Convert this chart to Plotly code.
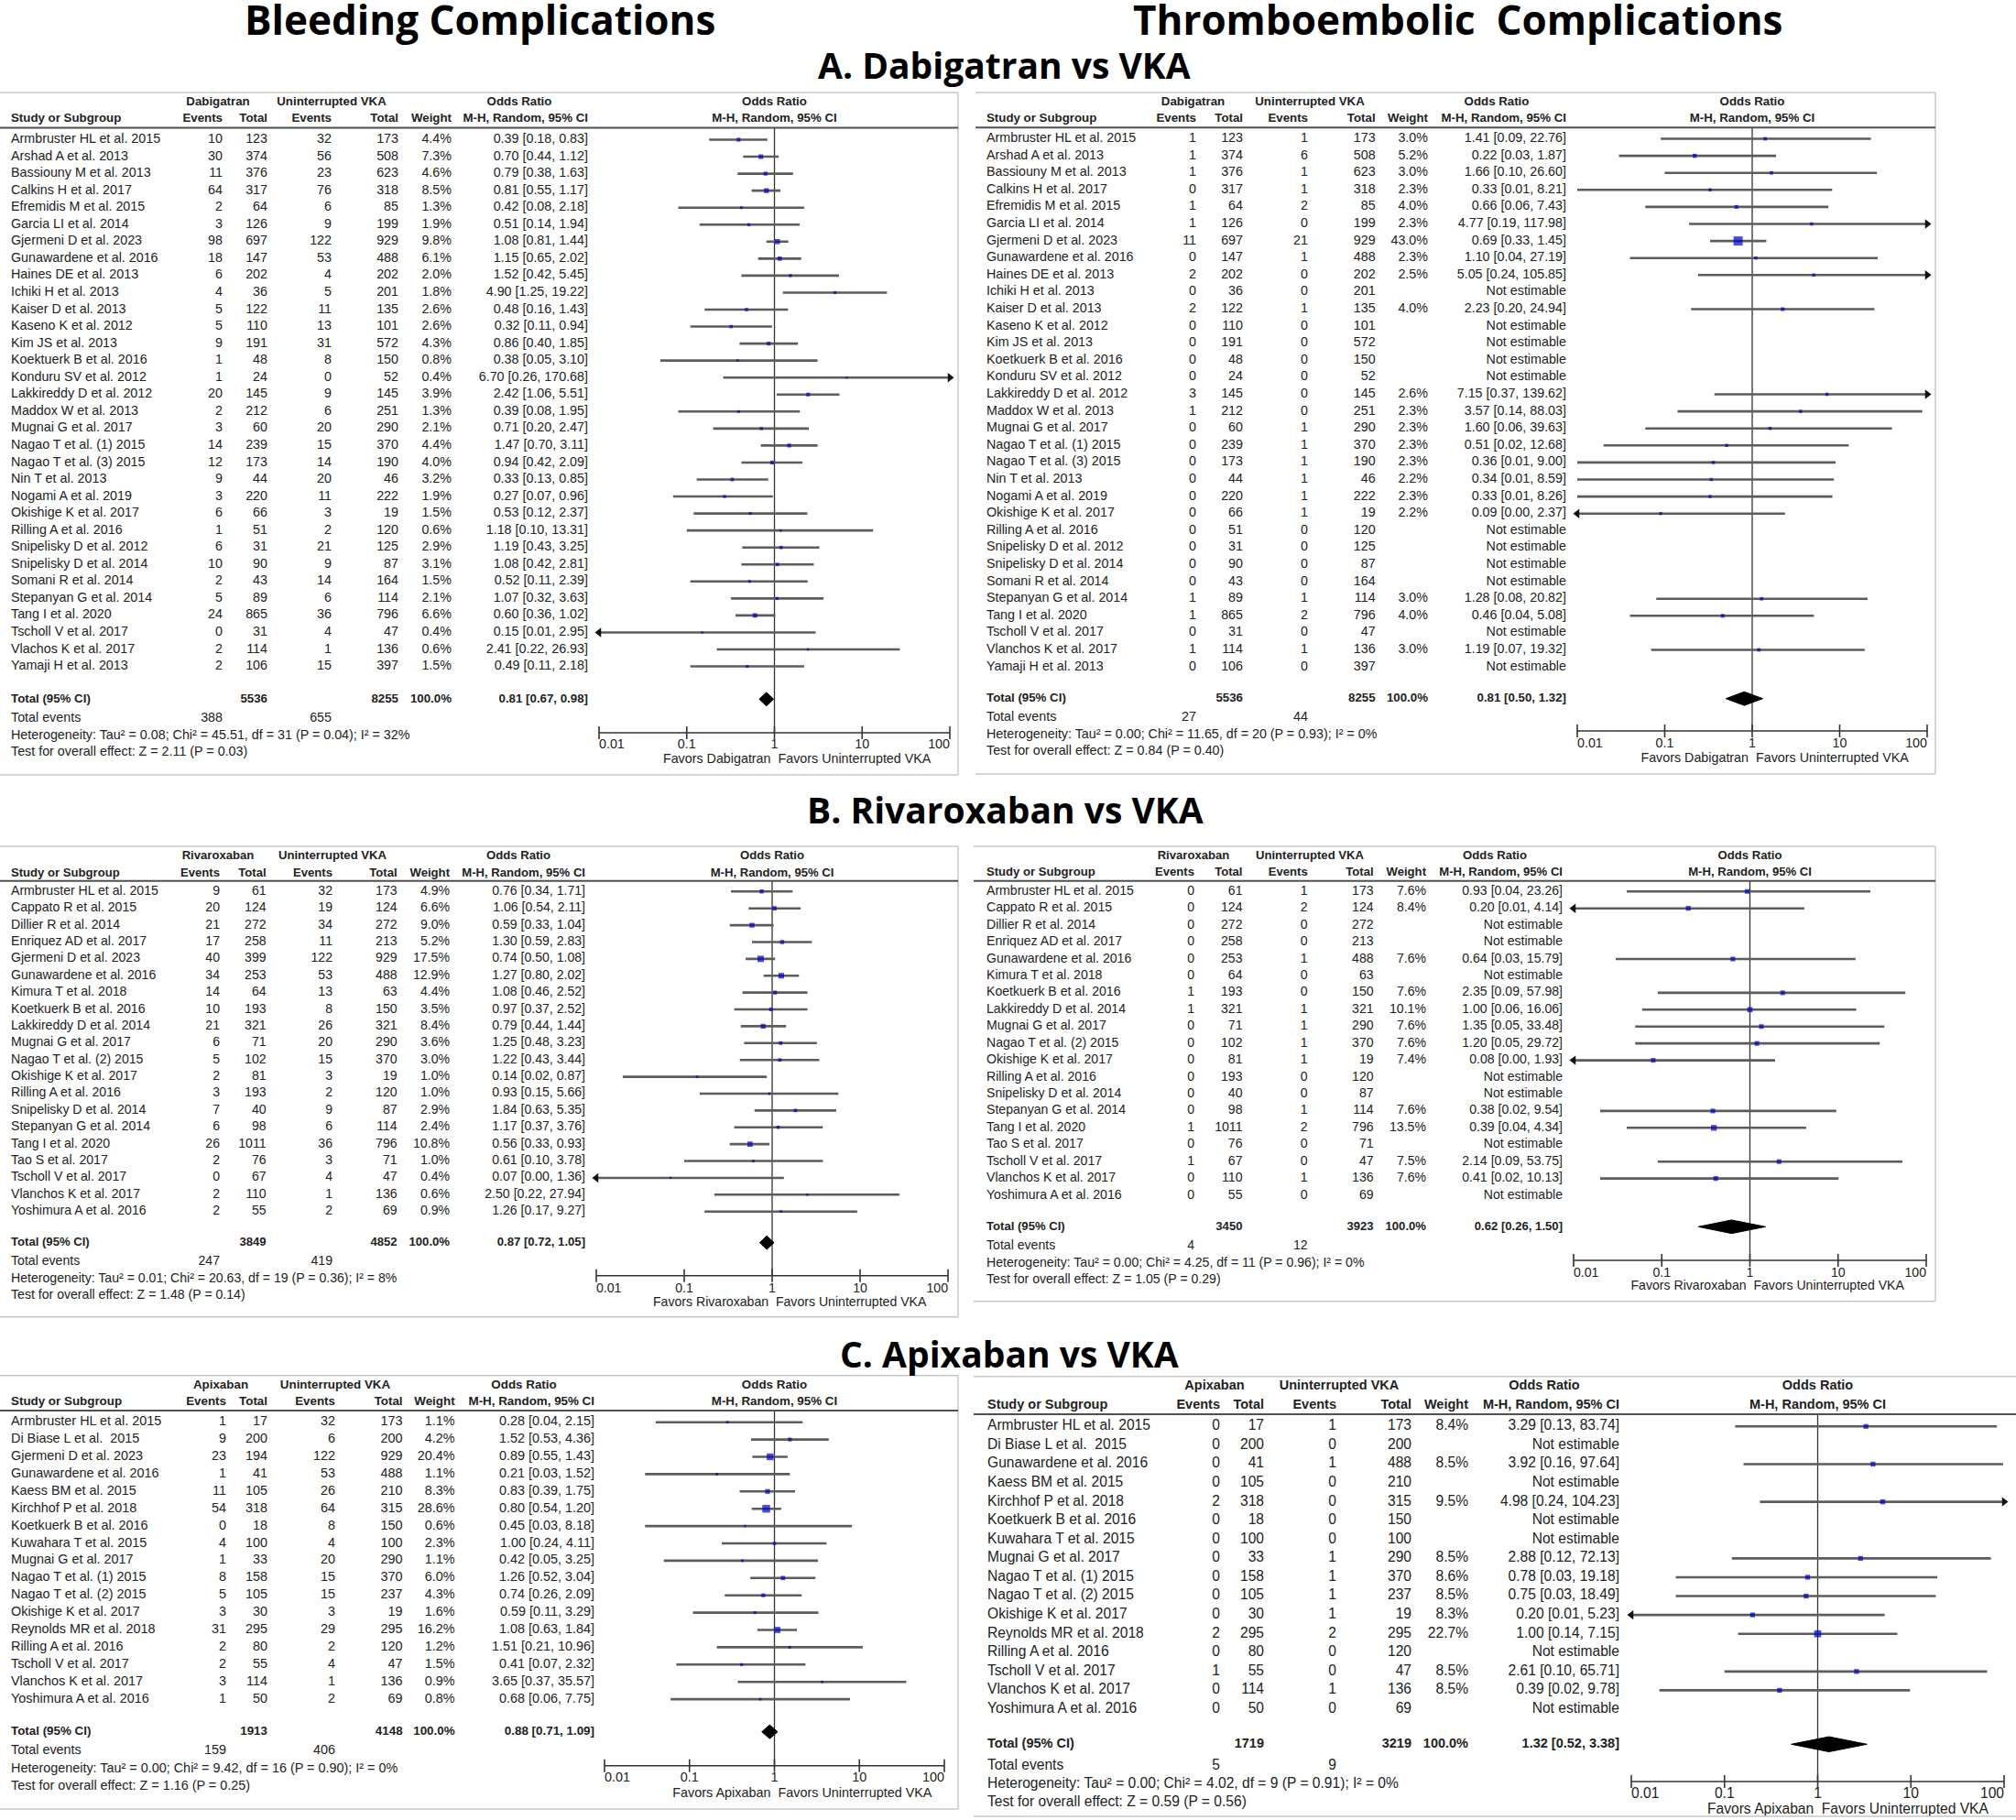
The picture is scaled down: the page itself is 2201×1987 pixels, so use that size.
import plotly.graph_objects as go

W, H = 2201, 1987
FONT = "Liberation Sans, Arial, sans-serif"
TITLE_FONT = "Open Sans, sans-serif"
TXT = "#222222"
CI_COL = "#5c5c5c"
BLUE = "#0000cc"

# ---------------- data ----------------
tick_vals = [0.01, 0.1, 1, 10, 100]
tick_text = ["0.01", "0.1", "1", "10", "100"]
comparator = "Uninterrupted VKA"

# A. Dabigatran - bleeding
dab_bleed_study = ["Armbruster HL et al. 2015", "Arshad A et al. 2013", "Bassiouny M et al. 2013", "Calkins H et al. 2017",
                   "Efremidis M et al. 2015", "Garcia LI et al. 2014", "Gjermeni D et al. 2023", "Gunawardene et al. 2016",
                   "Haines DE et al. 2013", "Ichiki H et al. 2013", "Kaiser D et al. 2013", "Kaseno K et al. 2012",
                   "Kim JS et al. 2013", "Koektuerk B et al. 2016", "Konduru SV et al. 2012", "Lakkireddy D et al. 2012",
                   "Maddox W et al. 2013", "Mugnai G et al. 2017", "Nagao T et al. (1) 2015", "Nagao T et al. (3) 2015",
                   "Nin T et al. 2013", "Nogami A et al. 2019", "Okishige K et al. 2017", "Rilling A et al. 2016",
                   "Snipelisky D et al. 2012", "Snipelisky D et al. 2014", "Somani R et al. 2014", "Stepanyan G et al. 2014",
                   "Tang I et al. 2020", "Tscholl V et al. 2017", "Vlachos K et al. 2017", "Yamaji H et al. 2013"]
dab_bleed_ev1 = [10, 30, 11, 64, 2, 3, 98, 18, 6, 4, 5, 5, 9, 1, 1, 20, 2, 3, 14, 12, 9, 3, 6, 1, 6, 10, 2, 5, 24, 0, 2, 2]
dab_bleed_tot1 = [123, 374, 376, 317, 64, 126, 697, 147, 202, 36, 122, 110, 191, 48, 24, 145, 212, 60, 239, 173, 44, 220, 66, 51, 31, 90, 43, 89, 865, 31, 114, 106]
dab_bleed_ev2 = [32, 56, 23, 76, 6, 9, 122, 53, 4, 5, 11, 13, 31, 8, 0, 9, 6, 20, 15, 14, 20, 11, 3, 2, 21, 9, 14, 6, 36, 4, 1, 15]
dab_bleed_tot2 = [173, 508, 623, 318, 85, 199, 929, 488, 202, 201, 135, 101, 572, 150, 52, 145, 251, 290, 370, 190, 46, 222, 19, 120, 125, 87, 164, 114, 796, 47, 136, 397]
dab_bleed_weight = [4.4, 7.3, 4.6, 8.5, 1.3, 1.9, 9.8, 6.1, 2.0, 1.8, 2.6, 2.6, 4.3, 0.8, 0.4, 3.9, 1.3, 2.1, 4.4, 4.0, 3.2, 1.9, 1.5, 0.6, 2.9, 3.1, 1.5, 2.1, 6.6, 0.4, 0.6, 1.5]
dab_bleed_or = [0.39, 0.70, 0.79, 0.81, 0.42, 0.51, 1.08, 1.15, 1.52, 4.90, 0.48, 0.32, 0.86, 0.38, 6.70, 2.42, 0.39, 0.71, 1.47, 0.94, 0.33, 0.27, 0.53, 1.18, 1.19, 1.08, 0.52, 1.07, 0.60, 0.15, 2.41, 0.49]
dab_bleed_lo = [0.18, 0.44, 0.38, 0.55, 0.08, 0.14, 0.81, 0.65, 0.42, 1.25, 0.16, 0.11, 0.40, 0.05, 0.26, 1.06, 0.08, 0.20, 0.70, 0.42, 0.13, 0.07, 0.12, 0.10, 0.43, 0.42, 0.11, 0.32, 0.36, 0.008, 0.22, 0.11]
dab_bleed_hi = [0.83, 1.12, 1.63, 1.17, 2.18, 1.94, 1.44, 2.02, 5.45, 19.22, 1.43, 0.94, 1.85, 3.10, 170.68, 5.51, 1.95, 2.47, 3.11, 2.09, 0.85, 0.96, 2.37, 13.31, 3.25, 2.81, 2.39, 3.63, 1.02, 2.95, 26.93, 2.18]
dab_bleed_totals = [5536, 8255, 388, 655]
dab_bleed_pooled = [0.81, 0.67, 0.98]
dab_bleed_het = "Heterogeneity: Tau² = 0.08; Chi² = 45.51, df = 31 (P = 0.04); I² = 32%"
dab_bleed_test = "Test for overall effect: Z = 2.11 (P = 0.03)"

# A. Dabigatran - thromboembolic
dab_thr_study = ["Armbruster HL et al. 2015", "Arshad A et al. 2013", "Bassiouny M et al. 2013", "Calkins H et al. 2017",
                 "Efremidis M et al. 2015", "Garcia LI et al. 2014", "Gjermeni D et al. 2023", "Gunawardene et al. 2016",
                 "Haines DE et al. 2013", "Ichiki H et al. 2013", "Kaiser D et al. 2013", "Kaseno K et al. 2012",
                 "Kim JS et al. 2013", "Koetkuerk B et al. 2016", "Konduru SV et al. 2012", "Lakkireddy D et al. 2012",
                 "Maddox W et al. 2013", "Mugnai G et al. 2017", "Nagao T et al. (1) 2015", "Nagao T et al. (3) 2015",
                 "Nin T et al. 2013", "Nogami A et al. 2019", "Okishige K et al. 2017", "Rilling A et al. 2016",
                 "Snipelisky D et al. 2012", "Snipelisky D et al. 2014", "Somani R et al. 2014", "Stepanyan G et al. 2014",
                 "Tang I et al. 2020", "Tscholl V et al. 2017", "Vlanchos K et al. 2017", "Yamaji H et al. 2013"]
dab_thr_ev1 = [1, 1, 1, 0, 1, 1, 11, 0, 2, 0, 2, 0, 0, 0, 0, 3, 1, 0, 0, 0, 0, 0, 0, 0, 0, 0, 0, 1, 1, 0, 1, 0]
dab_thr_tot1 = [123, 374, 376, 317, 64, 126, 697, 147, 202, 36, 122, 110, 191, 48, 24, 145, 212, 60, 239, 173, 44, 220, 66, 51, 31, 90, 43, 89, 865, 31, 114, 106]
dab_thr_ev2 = [1, 6, 1, 1, 2, 0, 21, 1, 0, 0, 1, 0, 0, 0, 0, 0, 0, 1, 1, 1, 1, 1, 1, 0, 0, 0, 0, 1, 2, 0, 1, 0]
dab_thr_tot2 = [173, 508, 623, 318, 85, 199, 929, 488, 202, 201, 135, 101, 572, 150, 52, 145, 251, 290, 370, 190, 46, 222, 19, 120, 125, 87, 164, 114, 796, 47, 136, 397]
dab_thr_weight = [3.0, 5.2, 3.0, 2.3, 4.0, 2.3, 43.0, 2.3, 2.5, None, 4.0, None, None, None, None, 2.6, 2.3, 2.3, 2.3, 2.3,
                  2.2, 2.3, 2.2, None, None, None, None, 3.0, 4.0, None, 3.0, None]
dab_thr_or = [1.41, 0.22, 1.66, 0.33, 0.66, 4.77, 0.69, 1.10, 5.05, None, 2.23, None, None, None, None, 7.15, 3.57, 1.60, 0.51, 0.36,
              0.34, 0.33, 0.09, None, None, None, None, 1.28, 0.46, None, 1.19, None]
dab_thr_lo = [0.09, 0.03, 0.10, 0.01, 0.06, 0.19, 0.33, 0.04, 0.24, None, 0.20, None, None, None, None, 0.37, 0.14, 0.06, 0.02, 0.01,
              0.01, 0.01, 0.003, None, None, None, None, 0.08, 0.04, None, 0.07, None]
dab_thr_hi = [22.76, 1.87, 26.60, 8.21, 7.43, 117.98, 1.45, 27.19, 105.85, None, 24.94, None, None, None, None, 139.62, 88.03, 39.63, 12.68, 9.00,
              8.59, 8.26, 2.37, None, None, None, None, 20.82, 5.08, None, 19.32, None]
dab_thr_totals = [5536, 8255, 27, 44]
dab_thr_pooled = [0.81, 0.50, 1.32]
dab_thr_het = "Heterogeneity: Tau² = 0.00; Chi² = 11.65, df = 20 (P = 0.93); I² = 0%"
dab_thr_test = "Test for overall effect: Z = 0.84 (P = 0.40)"

# B. Rivaroxaban - bleeding
riv_bleed_study = ["Armbruster HL et al. 2015", "Cappato R et al. 2015", "Dillier R et al. 2014", "Enriquez AD et al. 2017",
                   "Gjermeni D et al. 2023", "Gunawardene et al. 2016", "Kimura T et al. 2018", "Koetkuerk B et al. 2016",
                   "Lakkireddy D et al. 2014", "Mugnai G et al. 2017", "Nagao T et al. (2) 2015", "Okishige K et al. 2017",
                   "Rilling A et al. 2016", "Snipelisky D et al. 2014", "Stepanyan G et al. 2014", "Tang I et al. 2020",
                   "Tao S et al. 2017", "Tscholl V et al. 2017", "Vlanchos K et al. 2017", "Yoshimura A et al. 2016"]
riv_bleed_ev1 = [9, 20, 21, 17, 40, 34, 14, 10, 21, 6, 5, 2, 3, 7, 6, 26, 2, 0, 2, 2]
riv_bleed_tot1 = [61, 124, 272, 258, 399, 253, 64, 193, 321, 71, 102, 81, 193, 40, 98, 1011, 76, 67, 110, 55]
riv_bleed_ev2 = [32, 19, 34, 11, 122, 53, 13, 8, 26, 20, 15, 3, 2, 9, 6, 36, 3, 4, 1, 2]
riv_bleed_tot2 = [173, 124, 272, 213, 929, 488, 63, 150, 321, 290, 370, 19, 120, 87, 114, 796, 71, 47, 136, 69]
riv_bleed_weight = [4.9, 6.6, 9.0, 5.2, 17.5, 12.9, 4.4, 3.5, 8.4, 3.6, 3.0, 1.0, 1.0, 2.9, 2.4, 10.8, 1.0, 0.4, 0.6, 0.9]
riv_bleed_or = [0.76, 1.06, 0.59, 1.30, 0.74, 1.27, 1.08, 0.97, 0.79, 1.25, 1.22, 0.14, 0.93, 1.84, 1.17, 0.56, 0.61, 0.07, 2.50, 1.26]
riv_bleed_lo = [0.34, 0.54, 0.33, 0.59, 0.50, 0.80, 0.46, 0.37, 0.44, 0.48, 0.43, 0.02, 0.15, 0.63, 0.37, 0.33, 0.10, 0.004, 0.22, 0.17]
riv_bleed_hi = [1.71, 2.11, 1.04, 2.83, 1.08, 2.02, 2.52, 2.52, 1.44, 3.23, 3.44, 0.87, 5.66, 5.35, 3.76, 0.93, 3.78, 1.36, 27.94, 9.27]
riv_bleed_totals = [3849, 4852, 247, 419]
riv_bleed_pooled = [0.87, 0.72, 1.05]
riv_bleed_het = "Heterogeneity: Tau² = 0.01; Chi² = 20.63, df = 19 (P = 0.36); I² = 8%"
riv_bleed_test = "Test for overall effect: Z = 1.48 (P = 0.14)"

# B. Rivaroxaban - thromboembolic
riv_thr_study = ["Armbruster HL et al. 2015", "Cappato R et al. 2015", "Dillier R et al. 2014", "Enriquez AD et al. 2017",
                 "Gunawardene et al. 2016", "Kimura T et al. 2018", "Koetkuerk B et al. 2016", "Lakkireddy D et al. 2014",
                 "Mugnai G et al. 2017", "Nagao T et al. (2) 2015", "Okishige K et al. 2017", "Rilling A et al. 2016",
                 "Snipelisky D et al. 2014", "Stepanyan G et al. 2014", "Tang I et al. 2020", "Tao S et al. 2017",
                 "Tscholl V et al. 2017", "Vlanchos K et al. 2017", "Yoshimura A et al. 2016"]
riv_thr_ev1 = [0, 0, 0, 0, 0, 0, 1, 1, 0, 0, 0, 0, 0, 0, 1, 0, 1, 0, 0]
riv_thr_tot1 = [61, 124, 272, 258, 253, 64, 193, 321, 71, 102, 81, 193, 40, 98, 1011, 76, 67, 110, 55]
riv_thr_ev2 = [1, 2, 0, 0, 1, 0, 0, 1, 1, 1, 1, 0, 0, 1, 2, 0, 0, 1, 0]
riv_thr_tot2 = [173, 124, 272, 213, 488, 63, 150, 321, 290, 370, 19, 120, 87, 114, 796, 71, 47, 136, 69]
riv_thr_weight = [7.6, 8.4, None, None, 7.6, None, 7.6, 10.1, 7.6, 7.6, 7.4, None, None, 7.6, 13.5, None, 7.5, 7.6, None]
riv_thr_or = [0.93, 0.20, None, None, 0.64, None, 2.35, 1.00, 1.35, 1.20, 0.08, None, None, 0.38, 0.39, None, 2.14, 0.41, None]
riv_thr_lo = [0.04, 0.009, None, None, 0.03, None, 0.09, 0.06, 0.05, 0.05, 0.003, None, None, 0.02, 0.04, None, 0.09, 0.02, None]
riv_thr_hi = [23.26, 4.14, None, None, 15.79, None, 57.98, 16.06, 33.48, 29.72, 1.93, None, None, 9.54, 4.34, None, 53.75, 10.13, None]
riv_thr_totals = [3450, 3923, 4, 12]
riv_thr_pooled = [0.62, 0.26, 1.50]
riv_thr_het = "Heterogeneity: Tau² = 0.00; Chi² = 4.25, df = 11 (P = 0.96); I² = 0%"
riv_thr_test = "Test for overall effect: Z = 1.05 (P = 0.29)"

# C. Apixaban - bleeding
api_bleed_study = ["Armbruster HL et al. 2015", "Di Biase L et al.\u00a0 2015", "Gjermeni D et al. 2023", "Gunawardene et al. 2016",
                   "Kaess BM et al. 2015", "Kirchhof P et al. 2018", "Koetkuerk B et al. 2016", "Kuwahara T et al. 2015",
                   "Mugnai G et al. 2017", "Nagao T et al. (1) 2015", "Nagao T et al. (2) 2015", "Okishige K et al. 2017",
                   "Reynolds MR et al. 2018", "Rilling A et al. 2016", "Tscholl V et al. 2017", "Vlanchos K et al. 2017",
                   "Yoshimura A et al. 2016"]
api_bleed_ev1 = [1, 9, 23, 1, 11, 54, 0, 4, 1, 8, 5, 3, 31, 2, 2, 3, 1]
api_bleed_tot1 = [17, 200, 194, 41, 105, 318, 18, 100, 33, 158, 105, 30, 295, 80, 55, 114, 50]
api_bleed_ev2 = [32, 6, 122, 53, 26, 64, 8, 4, 20, 15, 15, 3, 29, 2, 4, 1, 2]
api_bleed_tot2 = [173, 200, 929, 488, 210, 315, 150, 100, 290, 370, 237, 19, 295, 120, 47, 136, 69]
api_bleed_weight = [1.1, 4.2, 20.4, 1.1, 8.3, 28.6, 0.6, 2.3, 1.1, 6.0, 4.3, 1.6, 16.2, 1.2, 1.5, 0.9, 0.8]
api_bleed_or = [0.28, 1.52, 0.89, 0.21, 0.83, 0.80, 0.45, 1.00, 0.42, 1.26, 0.74, 0.59, 1.08, 1.51, 0.41, 3.65, 0.68]
api_bleed_lo = [0.04, 0.53, 0.55, 0.03, 0.39, 0.54, 0.03, 0.24, 0.05, 0.52, 0.26, 0.11, 0.63, 0.21, 0.07, 0.37, 0.06]
api_bleed_hi = [2.15, 4.36, 1.43, 1.52, 1.75, 1.20, 8.18, 4.11, 3.25, 3.04, 2.09, 3.29, 1.84, 10.96, 2.32, 35.57, 7.75]
api_bleed_totals = [1913, 4148, 159, 406]
api_bleed_pooled = [0.88, 0.71, 1.09]
api_bleed_het = "Heterogeneity: Tau² = 0.00; Chi² = 9.42, df = 16 (P = 0.90); I² = 0%"
api_bleed_test = "Test for overall effect: Z = 1.16 (P = 0.25)"

# C. Apixaban - thromboembolic
api_thr_study = ["Armbruster HL et al. 2015", "Di Biase L et al.\u00a0 2015", "Gunawardene et al. 2016", "Kaess BM et al. 2015",
                 "Kirchhof P et al. 2018", "Koetkuerk B et al. 2016", "Kuwahara T et al. 2015", "Mugnai G et al. 2017",
                 "Nagao T et al. (1) 2015", "Nagao T et al. (2) 2015", "Okishige K et al. 2017", "Reynolds MR et al. 2018",
                 "Rilling A et al. 2016", "Tscholl V et al. 2017", "Vlanchos K et al. 2017", "Yoshimura A et al. 2016"]
api_thr_ev1 = [0, 0, 0, 0, 2, 0, 0, 0, 0, 0, 0, 2, 0, 1, 0, 0]
api_thr_tot1 = [17, 200, 41, 105, 318, 18, 100, 33, 158, 105, 30, 295, 80, 55, 114, 50]
api_thr_ev2 = [1, 0, 1, 0, 0, 0, 0, 1, 1, 1, 1, 2, 0, 0, 1, 0]
api_thr_tot2 = [173, 200, 488, 210, 315, 150, 100, 290, 370, 237, 19, 295, 120, 47, 136, 69]
api_thr_weight = [8.4, None, 8.5, None, 9.5, None, None, 8.5, 8.6, 8.5, 8.3, 22.7, None, 8.5, 8.5, None]
api_thr_or = [3.29, None, 3.92, None, 4.98, None, None, 2.88, 0.78, 0.75, 0.20, 1.00, None, 2.61, 0.39, None]
api_thr_lo = [0.13, None, 0.16, None, 0.24, None, None, 0.12, 0.03, 0.03, 0.008, 0.14, None, 0.10, 0.02, None]
api_thr_hi = [83.74, None, 97.64, None, 104.23, None, None, 72.13, 19.18, 18.49, 5.23, 7.15, None, 65.71, 9.78, None]
api_thr_totals = [1719, 3219, 5, 9]
api_thr_pooled = [1.32, 0.52, 3.38]
api_thr_het = "Heterogeneity: Tau² = 0.00; Chi² = 4.02, df = 9 (P = 0.91); I² = 0%"
api_thr_test = "Test for overall effect: Z = 0.59 (P = 0.56)"

# ---------------- panels ----------------
def panel(group, study, ev1, tot1, ev2, tot2, weight, orr, lo, hi, totals, pooled, het, test):
    return dict(group=group, study=study, ev1=ev1, tot1=tot1, ev2=ev2, tot2=tot2, weight=weight,
                orr=orr, lo=lo, hi=hi, totals=totals, pooled=pooled, het=het, test=test)

panels = [
    panel("Dabigatran", dab_bleed_study, dab_bleed_ev1, dab_bleed_tot1, dab_bleed_ev2, dab_bleed_tot2, dab_bleed_weight,
          dab_bleed_or, dab_bleed_lo, dab_bleed_hi, dab_bleed_totals, dab_bleed_pooled, dab_bleed_het, dab_bleed_test),
    panel("Dabigatran", dab_thr_study, dab_thr_ev1, dab_thr_tot1, dab_thr_ev2, dab_thr_tot2, dab_thr_weight,
          dab_thr_or, dab_thr_lo, dab_thr_hi, dab_thr_totals, dab_thr_pooled, dab_thr_het, dab_thr_test),
    panel("Rivaroxaban", riv_bleed_study, riv_bleed_ev1, riv_bleed_tot1, riv_bleed_ev2, riv_bleed_tot2, riv_bleed_weight,
          riv_bleed_or, riv_bleed_lo, riv_bleed_hi, riv_bleed_totals, riv_bleed_pooled, riv_bleed_het, riv_bleed_test),
    panel("Rivaroxaban", riv_thr_study, riv_thr_ev1, riv_thr_tot1, riv_thr_ev2, riv_thr_tot2, riv_thr_weight,
          riv_thr_or, riv_thr_lo, riv_thr_hi, riv_thr_totals, riv_thr_pooled, riv_thr_het, riv_thr_test),
    panel("Apixaban", api_bleed_study, api_bleed_ev1, api_bleed_tot1, api_bleed_ev2, api_bleed_tot2, api_bleed_weight,
          api_bleed_or, api_bleed_lo, api_bleed_hi, api_bleed_totals, api_bleed_pooled, api_bleed_het, api_bleed_test),
    panel("Apixaban", api_thr_study, api_thr_ev1, api_thr_tot1, api_thr_ev2, api_thr_tot2, api_thr_weight,
          api_thr_or, api_thr_lo, api_thr_hi, api_thr_totals, api_thr_pooled, api_thr_het, api_thr_test),
]

# pixel geometry of each panel (layout only)
geoms = [
    dict(x0=0, x1=1046, top=101, bottom=846, rborder=True, h1=112, h2=130, rule=139.5, row0=152.5, sp=18.55,
         total=763.3, events=784, het=803.3, test=821.7, axis=800, tlab=813.5, fav=829.5,
         study=12, ev1=243, tot1=292, ev2=362, tot2=435, w=493, ci=642, g1=238, g2=362, orh=567, fl=654, fr=1037, fs=14.3),
    dict(x0=1065, x1=2113, top=101, bottom=845, rborder=True, h1=111.7, h2=130, rule=139.3, row0=151.5, sp=18.6,
         total=762.7, events=783.3, het=802.3, test=820.7, axis=798, tlab=812.5, fav=828.8,
         study=1077, ev1=1306, tot1=1357, ev2=1428, tot2=1501.6, w=1559, ci=1710, g1=1302.5, g2=1430, orh=1634, fl=1722, fr=2104, fs=14.3),
    dict(x0=0, x1=1046, top=924, bottom=1437.7, rborder=True, h1=935, h2=953.3, rule=961.7, row0=973.3, sp=18.39,
         total=1356.7, events=1377.3, het=1396, test=1414.3, axis=1392.7, tlab=1407.2, fav=1422.2,
         study=12, ev1=240, tot1=290.6, ev2=363, tot2=433.6, w=491, ci=639, g1=238, g2=363, orh=566, fl=651, fr=1035, fs=14.1),
    dict(x0=1063, x1=2113, top=924, bottom=1420.7, rborder=True, h1=935, h2=953, rule=961.7, row0=973.3, sp=18.43,
         total=1339.3, events=1360.7, het=1379.3, test=1397.3, axis=1376, tlab=1390, fav=1404.5,
         study=1077, ev1=1304, tot1=1356.5, ev2=1427.7, tot2=1499.6, w=1557, ci=1706, g1=1303, g2=1430, orh=1632, fl=1718, fr=2103, fs=14.1),
    dict(x0=0, x1=1046, top=1501.7, bottom=1975, rborder=True, h1=1512.3, h2=1531, rule=1540, row0=1552.7, sp=18.9,
         total=1890.7, events=1911.7, het=1931, test=1950, axis=1927.7, tlab=1941.5, fav=1958.2,
         study=12, ev1=247, tot1=292, ev2=366, tot2=439.6, w=496.6, ci=649, g1=241, g2=366, orh=572, fl=660, fr=1031, fs=14.4),
    dict(x0=1063, x1=2201, top=1502.7, bottom=1983, rborder=False, h1=1513, h2=1534, rule=1544, row0=1557.3, sp=20.58,
         total=1904.3, events=1927.7, het=1948.3, test=1968.3, axis=1945, tlab=1959.5, fav=1976.5,
         study=1078, ev1=1332, tot1=1380, ev2=1459, tot2=1541, w=1603, ci=1768, g1=1326, g2=1462, orh=1686, fl=1781, fr=2188, fs=15.6),
]

titles = [
    ("Bleeding Complications", 524, 21, 44),
    ("Thromboembolic\u00a0 Complications", 1591, 21, 44),
    ("A. Dabigatran vs VKA", 1096, 71, 39),
    ("B. Rivaroxaban vs VKA", 1097, 884, 39),
    ("C. Apixaban vs VKA", 1102, 1477, 39),
]

# ---------------- build ----------------
fig = go.Figure()
axes = {}
shapes = []


def axn(prefix, i):
    return prefix if i == 1 else f"{prefix}{i}"


def fmt_ci(o, l, h):
    return f"{o:.2f} [{l:.2f}, {h:.2f}]"


for k, (p, g) in enumerate(zip(panels, geoms), start=1):
    it, iff = 2 * k - 1, 2 * k
    xt, xf, ya = axn("x", it), axn("x", iff), axn("y", k)
    axes[axn("xaxis", it)] = dict(domain=[g["x0"] / W, g["x1"] / W], range=[g["x0"], g["x1"]], visible=False,
                                  fixedrange=True, anchor=ya)
    axes[axn("xaxis", iff)] = dict(type="log", domain=[g["fl"] / W, g["fr"] / W], range=[-2, 2], visible=False,
                                   fixedrange=True, anchor=ya)
    axes[axn("yaxis", k)] = dict(domain=[1 - g["bottom"] / H, 1 - g["top"] / H], range=[g["bottom"], g["top"]],
                                 visible=False, fixedrange=True, anchor=xt)
    fs = g["fs"]
    hfs = fs * 0.93
    n = len(p["study"])
    ys = [g["row0"] + i * g["sp"] for i in range(n)]

    def txt(x, y, text, pos, bold=False, axis=xt, size=fs):
        fig.add_trace(go.Scatter(x=x, y=y, text=text, mode="text", textposition=pos,
                                 textfont=dict(family=FONT, size=size, color=TXT, weight=700 if bold else 400),
                                 xaxis=axis, yaxis=ya, cliponaxis=False, hoverinfo="skip", showlegend=False))

    # study rows
    txt([g["study"]] * n, ys, p["study"], "middle right")
    txt([g["ev1"]] * n, ys, [str(v) for v in p["ev1"]], "middle left")
    txt([g["tot1"]] * n, ys, [str(v) for v in p["tot1"]], "middle left")
    txt([g["ev2"]] * n, ys, [str(v) for v in p["ev2"]], "middle left")
    txt([g["tot2"]] * n, ys, [str(v) for v in p["tot2"]], "middle left")
    txt([g["w"]] * n, ys, [f"{w:.1f}%" if w is not None else "" for w in p["weight"]], "middle left")
    txt([g["ci"]] * n, ys, [fmt_ci(o, l, h) if o is not None else "Not estimable"
                            for o, l, h in zip(p["orr"], p["lo"], p["hi"])], "middle left")

    # headers
    txt([g["g1"], g["g2"], g["orh"], g["study"], g["ev1"], g["tot1"], g["ev2"], g["tot2"], g["w"], g["ci"]],
        [g["h1"]] * 3 + [g["h2"]] * 7,
        [p["group"], comparator, "Odds Ratio", "Study or Subgroup", "Events", "Total", "Events", "Total", "Weight",
         "M-H, Random, 95% CI"],
        ["middle center"] * 3 + ["middle right"] + ["middle left"] * 6, bold=True, size=hfs)
    txt([1, 1], [g["h1"], g["h2"]], ["Odds Ratio", "M-H, Random, 95% CI"], "middle center", bold=True, axis=xf, size=hfs)

    # totals
    N1, N2, E1, E2 = p["totals"]
    txt([g["study"], g["tot1"], g["tot2"], g["w"], g["ci"]], [g["total"]] * 5,
        ["Total (95% CI)", str(N1), str(N2), "100.0%", fmt_ci(*p["pooled"])],
        ["middle right"] + ["middle left"] * 4, bold=True, size=hfs)
    txt([g["study"], g["ev1"], g["ev2"]], [g["events"]] * 3, ["Total events", str(E1), str(E2)],
        ["middle right", "middle left", "middle left"])
    txt([g["study"], g["study"]], [g["het"], g["test"]], [p["het"], p["test"]], "middle right")

    # ---- forest plot ----
    fig.add_trace(go.Scatter(x=[1, 1], y=[g["rule"], g["axis"]], mode="lines", line=dict(color="#333333", width=1.3),
                             xaxis=xf, yaxis=ya, hoverinfo="skip", showlegend=False))
    est = [i for i in range(n) if p["orr"][i] is not None]
    lx, ly = [], []
    for i in est:
        lx += [p["lo"][i], p["hi"][i], None]
        ly += [ys[i], ys[i], None]
    fig.add_trace(go.Scatter(x=lx, y=ly, mode="lines", line=dict(color=CI_COL, width=2.6),
                             xaxis=xf, yaxis=ya, hoverinfo="skip", showlegend=False))
    left = [i for i in est if p["lo"][i] < tick_vals[0]]
    right = [i for i in est if p["hi"][i] > tick_vals[-1]]
    if left:
        fig.add_trace(go.Scatter(x=[tick_vals[0]] * len(left), y=[ys[i] for i in left], mode="markers",
                                 marker=dict(symbol="triangle-left", size=9, color="#111111"),
                                 xaxis=xf, yaxis=ya, cliponaxis=False, hoverinfo="skip", showlegend=False))
    if right:
        fig.add_trace(go.Scatter(x=[tick_vals[-1]] * len(right), y=[ys[i] for i in right], mode="markers",
                                 marker=dict(symbol="triangle-right", size=9, color="#111111"),
                                 xaxis=xf, yaxis=ya, cliponaxis=False, hoverinfo="skip", showlegend=False))
    fig.add_trace(go.Scatter(x=[p["orr"][i] for i in est], y=[ys[i] for i in est], mode="markers",
                             marker=dict(symbol="square", color=BLUE, line=dict(width=0),
                                         size=[1.5 + 1.3 * p["weight"][i] ** 0.5 for i in est]),
                             xaxis=xf, yaxis=ya, hoverinfo="skip", showlegend=False))
    po, pl, ph = p["pooled"]
    hh = 0.4 * g["sp"]
    t = g["total"]
    fig.add_trace(go.Scatter(x=[pl, po, ph, po, pl], y=[t, t - hh, t, t + hh, t], mode="lines", fill="toself",
                             fillcolor="#000000", line=dict(color="#000000", width=1),
                             xaxis=xf, yaxis=ya, hoverinfo="skip", showlegend=False))
    fig.add_trace(go.Scatter(x=[tick_vals[0], tick_vals[-1]], y=[g["axis"]] * 2, mode="lines",
                             line=dict(color="#333333", width=1.6), xaxis=xf, yaxis=ya,
                             hoverinfo="skip", showlegend=False))
    fig.add_trace(go.Scatter(x=tick_vals, y=[g["axis"]] * len(tick_vals), mode="markers",
                             marker=dict(symbol="line-ns", size=10, line=dict(width=1.6, color="#333333")),
                             xaxis=xf, yaxis=ya, cliponaxis=False, hoverinfo="skip", showlegend=False))
    txt(tick_vals, [g["tlab"]] * len(tick_vals), tick_text,
        ["middle right", "middle center", "middle center", "middle center", "middle left"], axis=xf)
    txt([1, 1], [g["fav"]] * 2, [f"Favors {p['group']}\u00a0", f"\u00a0Favors {comparator}"],
        ["middle left", "middle right"], axis=xf)

    fr_col = "#c8c8c8"
    shapes.append(dict(type="line", xref="paper", yref="paper", x0=g["x0"] / W, x1=g["x1"] / W,
                       y0=1 - g["top"] / H, y1=1 - g["top"] / H, line=dict(color=fr_col, width=1.5)))
    shapes.append(dict(type="line", xref="paper", yref="paper", x0=g["x0"] / W, x1=g["x1"] / W,
                       y0=1 - g["bottom"] / H, y1=1 - g["bottom"] / H, line=dict(color=fr_col, width=1.5)))
    if g["rborder"]:
        shapes.append(dict(type="line", xref="paper", yref="paper", x0=g["x1"] / W, x1=g["x1"] / W,
                           y0=1 - g["top"] / H, y1=1 - g["bottom"] / H, line=dict(color=fr_col, width=1.5)))
    shapes.append(dict(type="line", xref="paper", yref="paper", x0=g["x0"] / W, x1=g["x1"] / W,
                       y0=1 - g["rule"] / H, y1=1 - g["rule"] / H, line=dict(color="#505050", width=2)))

annotations = [dict(text=t, x=x / W, y=1 - y / H, xref="paper", yref="paper", xanchor="center", yanchor="middle",
                    showarrow=False, font=dict(family=TITLE_FONT, size=s, color="#000000", weight=700))
               for t, x, y, s in titles]

fig.update_layout(width=W, height=H, margin=dict(l=0, r=0, t=0, b=0), paper_bgcolor="white",
                  plot_bgcolor="rgba(0,0,0,0)", showlegend=False, shapes=shapes, annotations=annotations, **axes)

fig.write_html("out.html", config={"displayModeBar": False},
               post_script="document.body.style.margin='0';document.body.style.overflow='hidden';")
